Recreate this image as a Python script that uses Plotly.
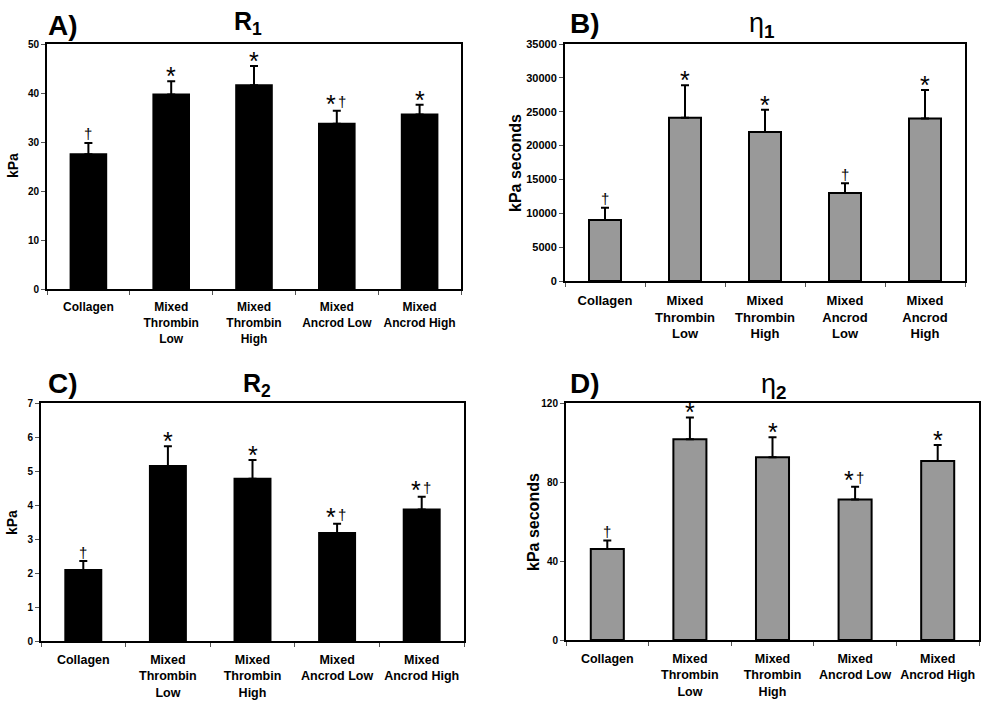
import plotly.graph_objects as go

W, H = 986, 705

# ---------------- data ----------------
cats_A = ["Collagen", "Mixed<br>Thrombin<br>Low", "Mixed<br>Thrombin<br>High",
          "Mixed<br>Ancrod Low", "Mixed<br>Ancrod High"]
cats_B = ["Collagen", "Mixed<br>Thrombin<br>Low", "Mixed<br>Thrombin<br>High",
          "Mixed<br>Ancrod<br>Low", "Mixed<br>Ancrod<br>High"]
cats_C = cats_A
cats_D = cats_A

R1_vals = [27.5, 39.7, 41.6, 33.7, 35.6]
R1_err = [2.3, 2.7, 3.9, 2.7, 2.0]
eta1_vals = [9000, 24100, 22000, 13000, 24000]
eta1_err = [1800, 4800, 3300, 1450, 4200]
R2_vals = [2.09, 5.15, 4.77, 3.18, 3.87]
R2_err = [0.26, 0.58, 0.55, 0.27, 0.37]
eta2_vals = [46.1, 101.6, 92.5, 71.2, 90.6]
eta2_err = [4.3, 11.1, 10.1, 6.4, 8.1]

marks_A = ["†", "*", "*", "*†", "*"]
marks_B = ["†", "*", "*", "†", "*"]
marks_C = ["†", "*", "*", "*†", "*†"]
marks_D = ["†", "*", "*", "*†", "*"]

ticks_A = [0, 10, 20, 30, 40, 50]
ticks_B = [0, 5000, 10000, 15000, 20000, 25000, 30000, 35000]
ticks_C = [0, 1, 2, 3, 4, 5, 6, 7]
ticks_D = [0, 40, 80, 120]

# ---------------- layout helpers ----------------
FONT = "Liberation Sans, Arial, sans-serif"

def px_x(v):
    return v / W

def px_y(v):
    return 1 - v / H

panels = [
    dict(cats=cats_A, vals=R1_vals, err=R1_err, marks=marks_A, ticks=ticks_A, rng=[0, 50],
         box=(47, 461, 44, 289), color="black", width=0.43, tfs=10, cfs=12),
    dict(cats=cats_B, vals=eta1_vals, err=eta1_err, marks=marks_B, ticks=ticks_B, rng=[0, 35000],
         box=(565, 965, 44, 281), color="#999999", width=0.40, tfs=11, cfs=13),
    dict(cats=cats_C, vals=R2_vals, err=R2_err, marks=marks_C, ticks=ticks_C, rng=[0, 7],
         box=(41, 464, 403, 641), color="black", width=0.425, tfs=10, cfs=12.5),
    dict(cats=cats_D, vals=eta2_vals, err=eta2_err, marks=marks_D, ticks=ticks_D, rng=[0, 120],
         box=(566, 979, 403, 640), color="#999999", width=0.40, tfs=10, cfs=12.5),
]

fig = go.Figure()
annotations = []
layout = dict(
    width=W, height=H, margin=dict(l=0, r=0, t=0, b=0, autoexpand=False),
    paper_bgcolor="white", plot_bgcolor="white", showlegend=False,
    font=dict(family=FONT, color="black"),
)

STAR = dict(family=FONT, size=25, color="black")
DAG = dict(family=FONT, size=15, color="black")

for i, p in enumerate(panels, start=1):
    xa = "x" if i == 1 else f"x{i}"
    ya = "y" if i == 1 else f"y{i}"
    l, r, t, b = p["box"]
    fig.add_trace(go.Bar(
        x=p["cats"], y=p["vals"], xaxis=xa, yaxis=ya, width=p["width"],
        marker=dict(color=p["color"], line=dict(color="black", width=2)),
        error_y=dict(type="data", symmetric=False, array=p["err"],
                     arrayminus=[0] * len(p["err"]), color="black", thickness=2, width=4),
    ))
    layout[f"xaxis{'' if i == 1 else i}"] = dict(
        domain=[px_x(l), px_x(r)], anchor=ya, type="category", automargin=False,
        showline=True, linecolor="black", linewidth=2, mirror=True,
        ticks="outside", tickson="boundaries", ticklen=4, tickcolor="#555555", tickwidth=1,
        showgrid=False, zeroline=False, ticklabelstandoff=6, tickangle=0,
        tickfont=dict(family=FONT, size=p["cfs"], weight="bold", color="black"),
    )
    layout[f"yaxis{'' if i == 1 else i}"] = dict(
        domain=[px_y(b), px_y(t)], anchor=xa, range=p["rng"], automargin=False,
        tickmode="array", tickvals=p["ticks"], tickformat="d",
        showline=True, linecolor="black", linewidth=2, mirror=True,
        ticks="outside", ticklen=4, tickcolor="#555555", tickwidth=1,
        showgrid=False, zeroline=False,
        tickfont=dict(family=FONT, size=p["tfs"], weight="bold", color="black"),
    )
    # significance marks
    for c, v, e, m in zip(p["cats"], p["vals"], p["err"], p["marks"]):
        top = v + e
        if m == "*":
            annotations.append(dict(x=c, y=top, xref=xa, yref=ya, text="*", showarrow=False,
                                    yanchor="middle", yshift=5, font=STAR))
        elif m == "†":
            annotations.append(dict(x=c, y=top, xref=xa, yref=ya, text="†", showarrow=False,
                                    yanchor="middle", yshift=9, font=DAG))
        else:
            annotations.append(dict(x=c, y=top, xref=xa, yref=ya, text="*", showarrow=False,
                                    yanchor="middle", yshift=7, xshift=-6, font=STAR))
            annotations.append(dict(x=c, y=top, xref=xa, yref=ya, text="†", showarrow=False,
                                    yanchor="middle", yshift=9, xshift=5, font=DAG))

# panel letters, titles and y-axis titles
def txt(text, cx, cy, size, angle=0, bold=True, xanchor="center"):
    annotations.append(dict(
        x=px_x(cx), y=px_y(cy), xref="paper", yref="paper", text=text, showarrow=False,
        xanchor=xanchor, yanchor="middle", textangle=angle,
        font=dict(family=FONT, size=size, weight="bold" if bold else "normal", color="black"),
    ))

txt("A)", 46, 25, 28, xanchor="left")
txt("R<sub>1</sub>", 248, 23, 25)
txt("B)", 568, 23, 28, xanchor="left")
txt("η<sub><b>1</b></sub>", 762, 25, 27, bold=False)
txt("C)", 46, 383, 28, xanchor="left")
txt("R<sub>2</sub>", 257, 385, 25)
txt("D)", 568, 383, 28, xanchor="left")
txt("η<sub><b>2</b></sub>", 774, 386, 27, bold=False)

txt("kPa", 13, 166, 14, angle=-90)
txt("kPa seconds", 515, 163, 16, angle=-90)
txt("kPa", 12, 523, 14, angle=-90)
txt("kPa seconds", 533, 522, 16, angle=-90)

layout["annotations"] = annotations
fig.update_layout(**layout)
fig.write_html(
    "out.html",
    config={"displayModeBar": False},
    post_script="document.body.style.margin='0';document.body.style.overflow='hidden';",
)
